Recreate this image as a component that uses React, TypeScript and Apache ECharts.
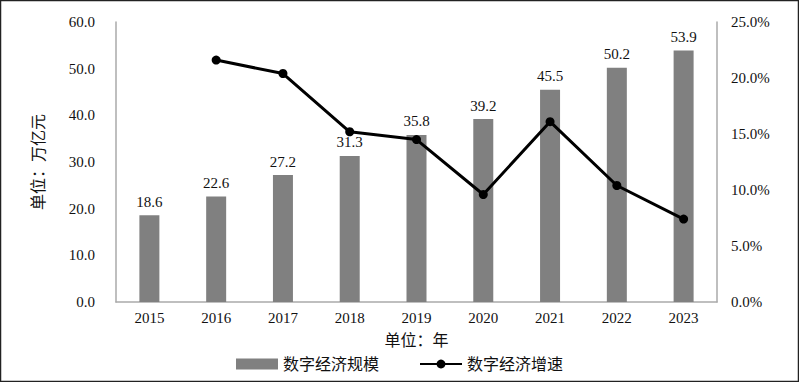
import React, { useEffect, useRef } from "react";
import * as echarts from "echarts";

const years = ["2015", "2016", "2017", "2018", "2019", "2020", "2021", "2022", "2023"];
const scale = [18.6, 22.6, 27.2, 31.3, 35.8, 39.2, 45.5, 50.2, 53.9];
const growth = [null, 21.6, 20.4, 15.2, 14.5, 9.6, 16.1, 10.4, 7.4];

const SERIF = "Liberation Serif, DejaVu Serif, Noto Sans CJK SC, serif";

export default function App() {
  const ref = useRef<HTMLDivElement>(null);
  useEffect(() => {
    const chart = echarts.init(ref.current!, null, { renderer: "svg" });
    chart.setOption({
      animation: false,
      backgroundColor: "#fff",
      textStyle: { fontFamily: SERIF },
      grid: { left: 116, right: 82, top: 22, bottom: 80 },
      graphic: [
        {
          type: "rect",
          shape: { x: 0.5, y: 0.5, width: 798, height: 381 },
          style: { fill: "none", stroke: "#222", lineWidth: 1.5 },
          silent: true,
        },
      ],
      legend: {
        bottom: 5,
        left: "center",
        itemGap: 40,
        itemWidth: 42,
        itemHeight: 11,
        textStyle: { fontSize: 16, color: "#111", fontFamily: SERIF },
        data: [
          { name: "数字经济规模", icon: "rect" },
          { name: "数字经济增速" },
        ],
      },
      xAxis: {
        type: "category",
        data: years,
        name: "单位：年",
        nameLocation: "middle",
        nameGap: 30,
        nameTextStyle: { fontSize: 16, color: "#111", fontFamily: SERIF },
        axisLine: { lineStyle: { color: "#aaa", width: 1.5 } },
        axisTick: { show: false },
        axisLabel: { fontSize: 15, color: "#111", margin: 8, fontFamily: SERIF },
      },
      yAxis: [
        {
          type: "value",
          min: 0,
          max: 60,
          interval: 10,
          name: "单位：万亿元",
          nameLocation: "middle",
          nameGap: 70,
          nameRotate: 90,
          nameTextStyle: { fontSize: 16, color: "#111", fontFamily: SERIF },
          axisLine: { show: true, lineStyle: { color: "#aaa", width: 1.5 } },
          axisTick: { show: false },
          splitLine: { show: false },
          axisLabel: { fontSize: 15, color: "#111", margin: 21, fontFamily: SERIF, formatter: (v: number) => v.toFixed(1) },
        },
        {
          type: "value",
          min: 0,
          max: 25,
          interval: 5,
          position: "right",
          axisLine: { show: true, lineStyle: { color: "#aaa", width: 1.5 } },
          axisTick: { show: false },
          splitLine: { show: false },
          axisLabel: { fontSize: 15, color: "#111", margin: 14, fontFamily: SERIF, formatter: (v: number) => v.toFixed(1) + "%" },
        },
      ],
      series: [
        {
          name: "数字经济规模",
          type: "bar",
          data: scale,
          barWidth: 20,
          itemStyle: { color: "#808080" },
          label: {
            show: true,
            position: "top",
            distance: 6,
            fontSize: 15,
            color: "#111",
            fontFamily: SERIF,
            formatter: (p: any) => Number(p.value).toFixed(1),
          },
        },
        {
          name: "数字经济增速",
          type: "line",
          yAxisIndex: 1,
          data: growth,
          symbol: "circle",
          symbolSize: 9,
          lineStyle: { color: "#000", width: 3 },
          itemStyle: { color: "#000" },
        },
      ],
    });
    return () => chart.dispose();
  }, []);
  return (
    <div
      ref={ref}
      style={{ position: "fixed", left: 0, top: 0, width: 799, height: 382 }}
    />
  );
}
